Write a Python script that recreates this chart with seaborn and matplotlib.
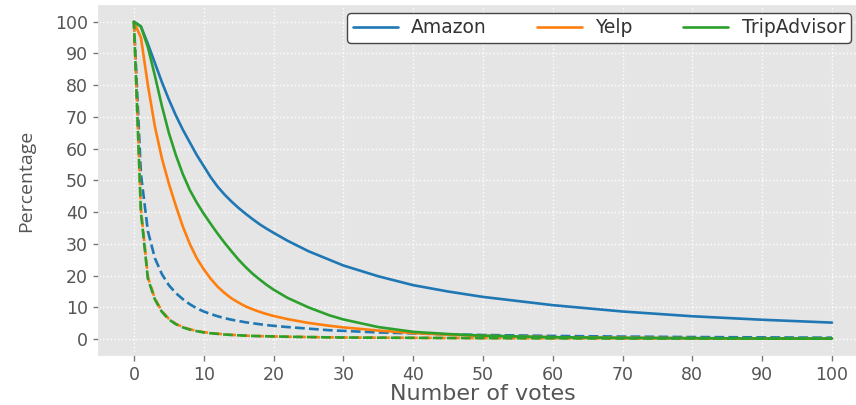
import numpy as np
import pandas as pd
import matplotlib
matplotlib.use("Agg")
import matplotlib.pyplot as plt
import seaborn as sns

# Number of votes (x axis)
votes = list(range(0, 21)) + [22, 25, 28, 30, 35, 40, 45, 50, 60, 70, 80, 90, 100]

# Solid curves
amazon = [100, 98.5, 93, 87, 81, 75.5, 70.5, 66, 62, 58, 54.5, 51, 48, 45.5, 43.3, 41.3,
          39.5, 37.8, 36.2, 34.8, 33.5,
          31, 27.7, 25, 23.2, 19.8, 17, 15, 13.3, 10.7, 8.7, 7.2, 6.1, 5.2]
yelp = [100, 95, 80, 67, 57, 49, 42, 35.5, 30, 25.5, 22, 19, 16.5, 14.5, 12.8, 11.5,
        10.3, 9.4, 8.6, 7.9, 7.3,
        6.3, 5.1, 4.2, 3.7, 2.7, 1.9, 1.4, 1.0, 0.6, 0.4, 0.3, 0.2, 0.2]
tripadvisor = [100, 98.5, 92, 83, 73.5, 65, 58, 52, 47, 43, 39.5, 36.3, 33.2, 30.3, 27.6, 25,
               22.7, 20.6, 18.8, 17.1, 15.6,
               13, 10, 7.5, 6.2, 3.8, 2.3, 1.6, 1.1, 0.6, 0.4, 0.3, 0.2, 0.2]

# Dashed curves
amazon_dash = [100, 52, 34, 25.5, 20.5, 17, 14.5, 12.6, 11, 9.7, 8.7, 7.9, 7.2, 6.6, 6.1, 5.7,
               5.3, 5.0, 4.7, 4.4, 4.2,
               3.8, 3.3, 2.8, 2.6, 2.1, 1.8, 1.5, 1.3, 1.0, 0.8, 0.65, 0.55, 0.45]
yelp_dash = [100, 41, 19.5, 12.8, 8.8, 6.4, 4.8, 3.8, 3.1, 2.6, 2.2, 1.9, 1.7, 1.5, 1.35, 1.2,
             1.1, 1.0, 0.95, 0.9, 0.85,
             0.75, 0.65, 0.55, 0.5, 0.45, 0.4, 0.35, 0.3, 0.25, 0.2, 0.2, 0.15, 0.15]
tripadvisor_dash = [100, 40, 19, 12.5, 8.6, 6.2, 4.7, 3.7, 3.0, 2.5, 2.1, 1.85, 1.65, 1.45, 1.3, 1.2,
                    1.1, 1.0, 0.95, 0.9, 0.85,
                    0.75, 0.65, 0.55, 0.5, 0.45, 0.4, 0.35, 0.3, 0.25, 0.2, 0.2, 0.15, 0.15]

ticks = list(range(0, 101, 10))

sns.set_theme(style="darkgrid", rc={
    "axes.facecolor": "#E5E5E5",
    "figure.facecolor": "white",
    "grid.color": "white",
    "grid.linestyle": ":",
    "grid.linewidth": 1.0,
    "axes.edgecolor": "#E5E5E5",
    "xtick.bottom": True,
    "ytick.left": True,
    "xtick.major.size": 4,
    "ytick.major.size": 4,
    "xtick.major.width": 1,
    "ytick.major.width": 1,
    "xtick.color": "#777777",
    "ytick.color": "#777777",
    "xtick.labelcolor": "#555555",
    "ytick.labelcolor": "#555555",
    "axes.labelcolor": "#555555",
})
plt.rcParams["font.family"] = ["DejaVu Sans"]

colors = sns.color_palette("tab10")

fig = plt.figure(figsize=(8.56, 4.05), dpi=100)
ax = fig.add_axes([0.1157, 0.1235, 0.897, 0.862])

lw = 1.9
sns.lineplot(x=votes, y=amazon, ax=ax, color=colors[0], lw=lw, label="Amazon")
sns.lineplot(x=votes, y=amazon_dash, ax=ax, color=colors[0], lw=lw, linestyle="--")
sns.lineplot(x=votes, y=yelp, ax=ax, color=colors[1], lw=lw, label="Yelp")
sns.lineplot(x=votes, y=yelp_dash, ax=ax, color=colors[1], lw=lw, linestyle="--")
sns.lineplot(x=votes, y=tripadvisor, ax=ax, color=colors[2], lw=lw, label="TripAdvisor")
sns.lineplot(x=votes, y=tripadvisor_dash, ax=ax, color=colors[2], lw=lw,
             linestyle=(1.0, (3.7, 1.6)))

ax.set_xlim(-5, 105)
ax.set_ylim(-5, 105)
ax.set_xticks(ticks)
ax.set_yticks(ticks)
ax.tick_params(labelsize=12.5, pad=4)

ax.set_xlabel("Number of votes", fontsize=16, labelpad=0)
ax.set_ylabel("Percentage", fontsize=14, labelpad=14, family=["Open Sans", "DejaVu Sans"])

handles, labels = ax.get_legend_handles_labels()
leg = ax.legend(handles, labels, loc="upper right", bbox_to_anchor=(0.979, 0.98),
                borderaxespad=0, ncol=3, fontsize=13.5, handlelength=2.4,
                handletextpad=0.7, columnspacing=2.7, borderpad=0.3,
                frameon=True, fancybox=True, framealpha=1)
leg.get_frame().set_facecolor("white")
leg.get_frame().set_edgecolor("#444444")
leg.get_frame().set_linewidth(1.0)
for t in leg.get_texts():
    t.set_color("#333333")

fig.savefig("out.png", dpi=100)
